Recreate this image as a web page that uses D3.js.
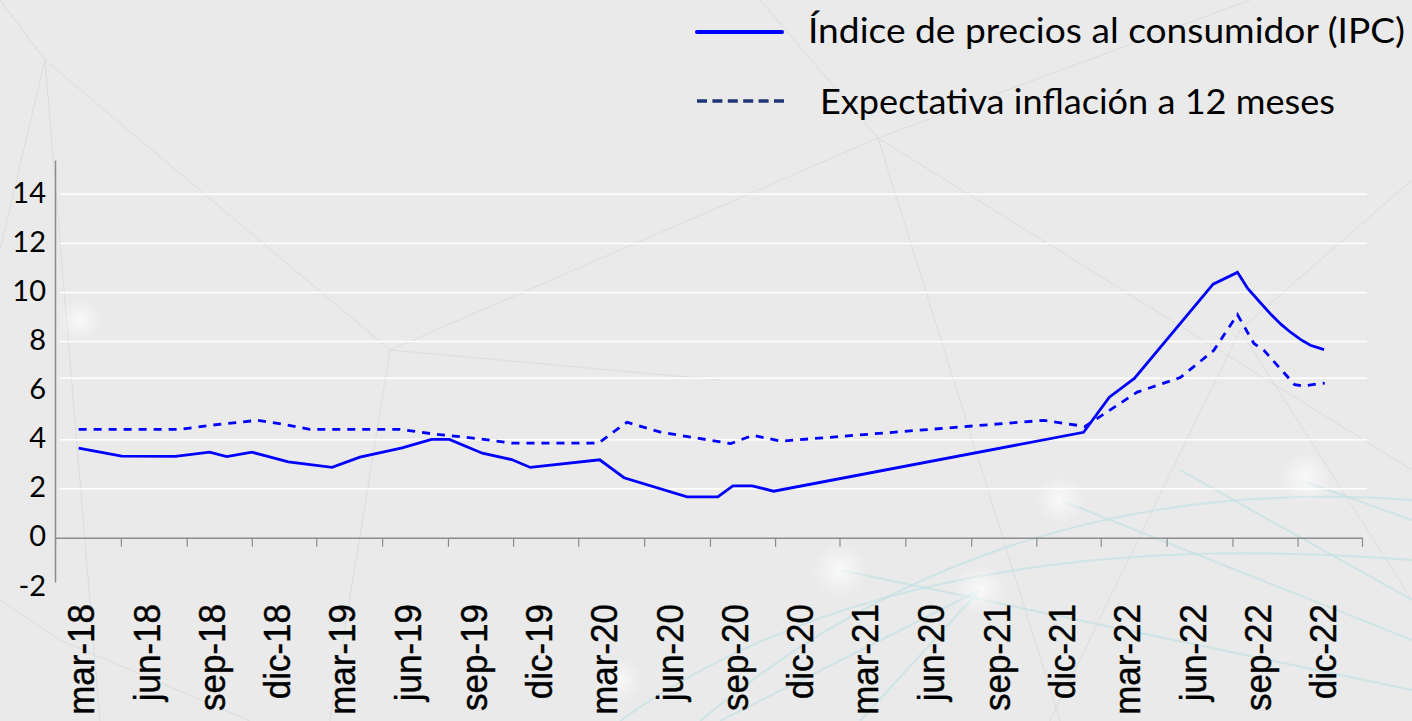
<!DOCTYPE html>
<html>
<head>
<meta charset="utf-8">
<script src="https://cdn.jsdelivr.net/npm/d3@7"></script>
<style>
  html, body { margin: 0; padding: 0; background: #eaeaea; }
  svg { display: block; }
</style>
</head>
<body>
<svg id="chart_root" width="1412" height="721"></svg>
<script>
// Quarter labels under the x axis (the source repeats "jun-20" in 2021, kept as is)
var quarter_labels = ["mar-18", "jun-18", "sep-18", "dic-18", "mar-19", "jun-19", "sep-19", "dic-19",
                      "mar-20", "jun-20", "sep-20", "dic-20", "mar-21", "jun-20", "sep-21", "dic-21",
                      "mar-22", "jun-22", "sep-22", "dic-22"];
var first_quarter = "2018-03-01";

// Y axis labels and the white grid lines
var y_tick_values = [-2, 0, 2, 4, 6, 8, 10, 12, 14];
var grid_values = [2, 4, 6.5, 8, 10, 12, 14];

// Índice de precios al consumidor (IPC), % anual
var ipc_dates = ["2018-04-03", "2018-06-02", "2018-08-16", "2018-10-03", "2018-10-27", "2018-12-01",
                 "2019-01-21", "2019-03-23", "2019-05-01", "2019-06-29", "2019-08-09", "2019-09-03",
                 "2019-10-19", "2019-11-29", "2019-12-25", "2020-03-31", "2020-05-04", "2020-07-31",
                 "2020-09-12", "2020-10-03", "2020-10-30", "2020-11-29", "2022-02-05", "2022-03-13",
                 "2022-04-17", "2022-08-05", "2022-09-08", "2022-09-22", "2022-10-11", "2022-10-25",
                 "2022-11-08", "2022-11-22", "2022-12-06", "2022-12-19", "2023-01-07"];
var ipc_values = [3.66, 3.33, 3.32, 3.49, 3.31, 3.49, 3.10, 2.87, 3.29, 3.67, 4.01, 4.01,
                  3.45, 3.19, 2.87, 3.18, 2.45, 1.67, 1.67, 2.12, 2.12, 1.90, 4.30, 5.73,
                  6.50, 10.34, 10.82, 10.18, 9.55, 9.10, 8.70, 8.36, 8.07, 7.85, 7.67];

// Expectativa de inflación a 12 meses
var expectation_dates = ["2018-04-03", "2018-08-23", "2018-10-02", "2018-12-09", "2019-01-18", "2019-02-20",
                         "2019-06-26", "2019-08-10", "2019-10-14", "2019-11-30", "2020-03-29", "2020-05-08",
                         "2020-06-24", "2020-09-30", "2020-10-31", "2020-12-09", "2021-12-12", "2022-02-07",
                         "2022-04-21", "2022-06-20", "2022-08-06", "2022-09-08", "2022-10-01", "2022-10-15",
                         "2022-11-27", "2022-12-08", "2023-01-08"];
var expectation_values = [4.42, 4.42, 4.58, 4.79, 4.61, 4.42, 4.42, 4.24, 4.04, 3.86, 3.86, 4.71,
                          4.31, 3.84, 4.18, 3.94, 4.79, 4.54, 5.94, 6.53, 7.64, 9.10, 7.92, 7.64,
                          6.24, 6.19, 6.31];

var legend_labels = ["Índice de precios al consumidor (IPC)", "Expectativa inflación a 12 meses"];

var total_width = 1412;
var total_height = 721;
var margin_left = 55;
var margin_right = 50;
var margin_top = 160;
var margin_bottom = 139;
var line_colour = "#0000ff";

var svg = d3.select("#chart_root");
var parse = d3.timeParse("%Y-%m-%d");

// ---- background decoration (faint network lines and glows) ----
var defs = svg.append("defs");
var glow = defs.append("radialGradient").attr("id", "glow");
glow.append("stop").attr("offset", "0%").attr("stop-color", "#ffffff").attr("stop-opacity", 0.7);
glow.append("stop").attr("offset", "100%").attr("stop-color", "#ffffff").attr("stop-opacity", 0);

svg.append("rect").attr("width", total_width).attr("height", total_height).attr("fill", "#eaeaea");

var deco = svg.append("g").attr("fill", "none");
var grey_paths = ["M45,60 L390,350 L878,138 L1412,470", "M45,60 L100,721", "M0,0 L45,60 L0,250",
                  "M390,350 L330,721", "M390,350 L720,380", "M878,138 L1060,721",
                  "M878,138 L1250,0", "M878,138 L760,0", "M1240,330 L1412,180", "M0,600 L60,640 L250,721",
                  "M1240,330 L1050,721", "M1240,330 L1412,600"];
deco.selectAll("path.grey").data(grey_paths).enter().append("path")
    .attr("class", "grey").attr("d", function(d) { return d; })
    .attr("stroke", "#d9d9d9").attr("stroke-width", 0.8);
var teal_paths = ["M700,721 Q1000,470 1412,500", "M620,721 Q900,520 1412,560",
                  "M840,570 L1412,690", "M980,590 L720,721", "M1060,500 L1412,640",
                  "M1180,470 L1412,600", "M980,590 L860,721", "M1300,480 L1412,520"];
deco.selectAll("path.teal").data(teal_paths).enter().append("path")
    .attr("class", "teal").attr("d", function(d) { return d; })
    .attr("stroke", "#c3e1e4").attr("stroke-width", 2).attr("opacity", 0.7);
var glow_spots = [[80, 320, 22], [840, 570, 28], [980, 590, 26], [1060, 500, 24], [1305, 478, 26], [620, 680, 22]];
deco.selectAll("circle").data(glow_spots).enter().append("circle")
    .attr("cx", function(d) { return d[0]; }).attr("cy", function(d) { return d[1]; })
    .attr("r", function(d) { return d[2]; }).attr("fill", "url(#glow)");

// ---- scales ----
var start_date = parse(first_quarter);
var quarter_starts = d3.range(quarter_labels.length + 1).map(function(i) { return d3.timeMonth.offset(start_date, 3 * i); });

var x = d3.scaleTime()
    .domain([quarter_starts[0], quarter_starts[quarter_starts.length - 1]])
    .range([margin_left, total_width - margin_right]);

var y = d3.scaleLinear()
    .domain([-1.8, 15.4])
    .range([total_height - margin_bottom, margin_top]);

// grid lines
svg.append("g").selectAll("line").data(grid_values).enter().append("line")
    .attr("x1", margin_left + 5).attr("x2", total_width - margin_right + 5)
    .attr("y1", function(d) { return y(d); }).attr("y2", function(d) { return y(d); })
    .attr("stroke", "#ffffff").attr("stroke-width", 1.5);

// y axis (plain hyphen for the negative label, as in the source)
var y_axis = svg.append("g")
    .attr("class", "y-axis")
    .attr("transform", "translate(" + margin_left + ",0)")
    .call(d3.axisLeft(y).tickValues(y_tick_values).tickSize(0).tickPadding(9)
          .tickFormat(function(d) { return String(d); }));
y_axis.select(".domain").attr("stroke", "#8c8c8c").attr("stroke-width", 1.5);
y_axis.selectAll(".tick text")
    .attr("fill", "#000").attr("font-family", "Lato, sans-serif").attr("font-size", 29).attr("dy", "0.28em");

// x axis sitting on zero, ticks at the quarter boundaries
var x_axis = svg.append("g")
    .attr("class", "x-axis")
    .attr("transform", "translate(0," + y(0) + ")")
    .call(d3.axisBottom(x).tickValues(quarter_starts).tickFormat("").tickSize(9).tickSizeOuter(0));
x_axis.select(".domain").attr("stroke", "#8c8c8c").attr("stroke-width", 1.5);
x_axis.selectAll(".tick line").attr("stroke", "#8c8c8c").attr("stroke-width", 1.2);

// rotated quarter labels, baseline just right of each quarter's centre
svg.append("g").selectAll("text").data(quarter_labels).enter().append("text")
    .attr("transform", function(d, i) {
        var mid = (x(quarter_starts[i]) + x(quarter_starts[i + 1])) / 2 + 6;
        return "translate(" + mid + ",604) rotate(-90) scale(1,1.08)";
    })
    .attr("text-anchor", "end")
    .style("font-family", "'Liberation Sans', Arial, sans-serif")
    .style("font-size", "35px")
    .attr("fill", "#000")
    .attr("stroke", "#000")
    .attr("stroke-width", 0.4)
    .text(function(d) { return d; });

// ---- lines ----
function to_points(dates, values) {
    return dates.map(function(d, i) { return { date: parse(d), value: values[i] }; });
}
var line = d3.line()
    .x(function(d) { return x(d.date); })
    .y(function(d) { return y(d.value); });

svg.append("path")
    .datum(to_points(expectation_dates, expectation_values))
    .attr("d", line)
    .attr("fill", "none")
    .attr("stroke", line_colour)
    .attr("stroke-width", 2.8)
    .attr("stroke-dasharray", "8,7");

svg.append("path")
    .datum(to_points(ipc_dates, ipc_values))
    .attr("d", line)
    .attr("fill", "none")
    .attr("stroke", line_colour)
    .attr("stroke-width", 2.8);

// ---- legend ----
var legend = svg.append("g");
legend.append("line")
    .attr("x1", 697).attr("x2", 782).attr("y1", 32).attr("y2", 32)
    .attr("stroke", line_colour).attr("stroke-width", 4).attr("stroke-linecap", "round");
legend.append("line")
    .attr("x1", 697).attr("x2", 784).attr("y1", 101).attr("y2", 101)
    .attr("stroke", "#1f3577").attr("stroke-width", 3.5).attr("stroke-dasharray", "10,5.4");
var legend_pos = [[808, 43, 597], [820, 114, 515]];
legend.selectAll("text").data(legend_labels).enter().append("text")
    .attr("x", function(d, i) { return legend_pos[i][0]; })
    .attr("y", function(d, i) { return legend_pos[i][1]; })
    .attr("textLength", function(d, i) { return legend_pos[i][2]; })
    .attr("lengthAdjust", "spacingAndGlyphs")
    .attr("font-family", "Lato, sans-serif")
    .attr("font-size", 35)
    .attr("fill", "#000")
    .text(function(d) { return d; });
</script>
</body>
</html>
